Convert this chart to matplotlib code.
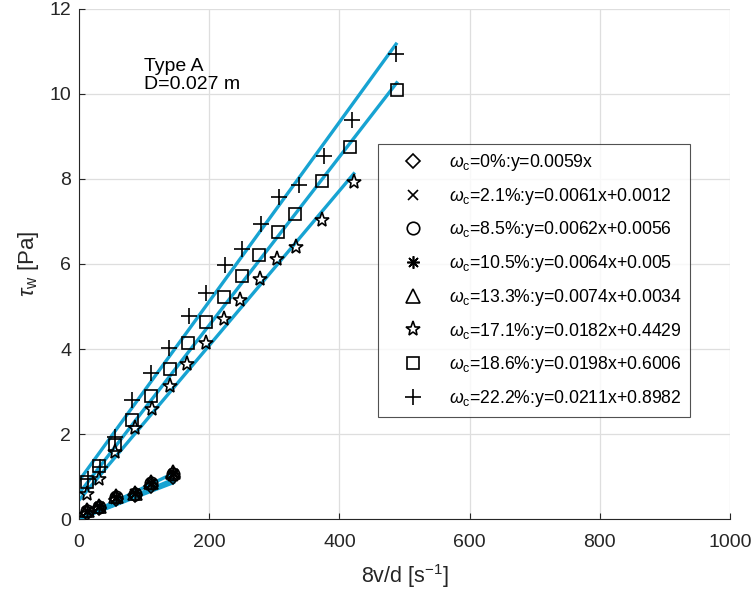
import matplotlib.pyplot as plt
import numpy as np

plt.rcParams['font.family'] = ['Liberation Sans', 'DejaVu Sans']
plt.rcParams['mathtext.fontset'] = 'custom'
plt.rcParams['mathtext.rm'] = 'Liberation Sans'
plt.rcParams['mathtext.it'] = 'Liberation Sans:italic'

# shear rate 8v/d [1/s] and wall shear stress [Pa] for each concentration
x_low = [12, 31, 57, 86, 111, 145]
y_00 = [0.15, 0.25, 0.46, 0.56, 0.78, 1.00]
y_21 = [0.17, 0.27, 0.48, 0.58, 0.80, 1.02]
y_85 = [0.19, 0.29, 0.51, 0.60, 0.84, 1.06]
y_105 = [0.20, 0.30, 0.52, 0.61, 0.85, 1.08]
y_133 = [0.21, 0.31, 0.53, 0.62, 0.87, 1.10]

x_171 = [13, 30, 55, 86, 112, 140, 166, 195, 223, 248, 278, 304, 334, 373, 422]
y_171 = [0.60, 0.93, 1.57, 2.13, 2.60, 3.14, 3.64, 4.15, 4.71, 5.15, 5.65,
         6.12, 6.40, 7.04, 7.92]

x_186 = [13, 31, 56, 81, 111, 140, 167, 195, 222, 250, 277, 305, 332, 374, 417, 488]
y_186 = [0.86, 1.25, 1.75, 2.33, 2.90, 3.53, 4.13, 4.64, 5.23, 5.72, 6.21,
         6.75, 7.18, 7.95, 8.76, 10.09]

x_222 = [14, 33, 56, 82, 111, 139, 169, 195, 225, 250, 279, 307, 338, 377, 419, 487]
y_222 = [0.94, 1.22, 1.92, 2.80, 3.44, 4.03, 4.77, 5.32, 5.98, 6.35, 6.94,
         7.57, 7.86, 8.54, 9.39, 10.93]

# linear fits y = a*x + b
slopes = [0.0059, 0.0061, 0.0062, 0.0064, 0.0074, 0.0182, 0.0198, 0.0211]
intercepts = [0, 0.0012, 0.0056, 0.005, 0.0034, 0.4429, 0.6006, 0.8982]
labels = [r'$\omega_{\rm c}$=0%:y=0.0059x',
          r'$\omega_{\rm c}$=2.1%:y=0.0061x+0.0012',
          r'$\omega_{\rm c}$=8.5%:y=0.0062x+0.0056',
          r'$\omega_{\rm c}$=10.5%:y=0.0064x+0.005',
          r'$\omega_{\rm c}$=13.3%:y=0.0074x+0.0034',
          r'$\omega_{\rm c}$=17.1%:y=0.0182x+0.4429',
          r'$\omega_{\rm c}$=18.6%:y=0.0198x+0.6006',
          r'$\omega_{\rm c}$=22.2%:y=0.0211x+0.8982']

xs = [x_low, x_low, x_low, x_low, x_low, x_171, x_186, x_222]
ys = [y_00, y_21, y_85, y_105, y_133, y_171, y_186, y_222]
markers = ['D', 'x', 'o', (8, 2, 0), '^', '*', 's', '+']
msizes = [7.5, 6.5, 9, 9, 9.5, 11, 8, 11]

fig = plt.figure(figsize=(7.53, 5.91), dpi=100)
ax = fig.add_axes([0.1049, 0.1218, 0.8646, 0.8630])

line_color = '#17a3d2'
for x, a, b in zip(xs, slopes, intercepts):
    xl = np.array([0, max(x)])
    ax.plot(xl, a * xl + b, color=line_color, lw=2.4, zorder=2)

for x, y, m, ms, lab in zip(xs, ys, markers, msizes, labels):
    ax.plot(x, y, linestyle='none', marker=m, ms=ms, mfc='none', mec='black',
            mew=1.2, label=lab, zorder=3)

ax.set_xlim(0, 1000)
ax.set_ylim(0, 12)
ax.set_xticks(np.arange(0, 1001, 200))
ax.set_yticks(np.arange(0, 13, 2))
ax.grid(True, color='#dedede', lw=0.9)
ax.set_axisbelow(True)
for s in ['top', 'right']:
    ax.spines[s].set_visible(False)
for s in ['left', 'bottom']:
    ax.spines[s].set_color('#262626')
    ax.spines[s].set_linewidth(0.8)
ax.tick_params(direction='in', length=4, width=0.8, colors='#262626',
               labelsize=14, pad=5.5)
ax.tick_params(axis='x', pad=11)

ax.set_xlabel('8v/d [s$^{-1}$]', fontsize=15.5, color='#262626', labelpad=8)
ax.set_ylabel(r'$\tau_{\rm w}$ [Pa]', fontsize=16, color='#262626', labelpad=6)

ax.text(100, 10.85, 'Type A\nD=0.027 m', fontsize=14, va='top', ha='left',
        linespacing=1.12, color='black')

leg = ax.legend(loc='upper left', bbox_to_anchor=(0.459, 0.735), fontsize=12.7,
                frameon=True, fancybox=False, edgecolor='#262626',
                borderpad=0.45, labelspacing=0.72, handletextpad=0.46,
                handlelength=3.1, borderaxespad=0)
leg.get_frame().set_linewidth(0.8)

fig.savefig('out.png', dpi=100)
